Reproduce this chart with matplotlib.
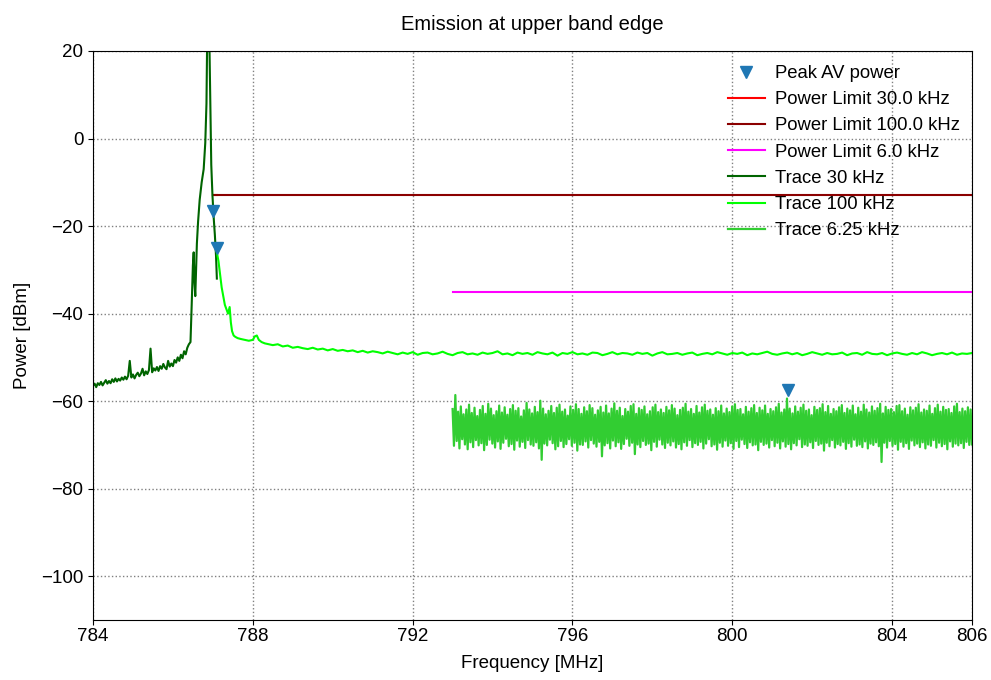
import numpy as np
import matplotlib
matplotlib.use("Agg")
import matplotlib.pyplot as plt

plt.rcParams['font.family'] = ['Liberation Sans', 'DejaVu Sans']

# ---------------- data ----------------
x_ticks = [784, 788, 792, 796, 800, 804, 806]
y_ticks = [-100, -80, -60, -40, -20, 0, 20]

# Trace 30 kHz: baseline grid 784.00..786.40 (step 0.04) + peak region
t30_base_start, t30_base_stop = 784.0, 786.40
t30_base = [-56.5, -56.0, -56.8, -55.9, -56.3, -55.6, -56.4, -55.8, -55.2, -56.0,
            -55.4, -55.9, -55.0, -55.6, -54.8, -55.5, -54.9, -55.3, -54.6, -55.1,
            -54.4, -55.0, -54.2, -50.8, -54.6, -53.9, -54.8, -54.0, -53.5, -54.3,
            -53.7, -52.6, -54.1, -53.2, -53.8, -52.9, -48.0, -53.4, -52.5, -53.0,
            -52.2, -53.1, -52.0, -52.6, -51.5, -52.3, -52.7, -50.8, -52.1, -51.4,
            -52.0, -50.6, -51.2, -50.0, -50.8, -49.4, -50.2, -48.6, -49.3, -47.8,
            -47.0]
t30_peak_f = [786.44, 786.47, 786.50, 786.52, 786.54, 786.56, 786.58, 786.60, 786.63,
              786.67, 786.72, 786.77, 786.81, 786.84, 786.86, 786.88, 786.90, 786.93,
              786.96, 786.99, 787.02, 787.05, 787.08, 787.10]
t30_peak_p = [-46.5, -38, -29, -26, -33, -36, -30, -24, -19, -14, -10, -7, -1, 8, 25,
              32, 30, 12, -6, -13, -18, -22, -27, -32]

# Trace 100 kHz: near-carrier points + grid 788.5..806 (step 0.125)
t100_near_f = [787.10, 787.14, 787.18, 787.22, 787.26, 787.30, 787.34, 787.38, 787.42,
               787.45, 787.48, 787.52, 787.56, 787.62, 787.70, 787.80, 787.90, 788.00,
               788.05, 788.10, 788.15, 788.22, 788.30, 788.40]
t100_near_p = [-26, -28, -31, -34, -36, -38, -39, -40, -38.5, -42, -44, -45, -45.3,
               -45.6, -45.8, -46.0, -46.2, -46.0, -45.2, -45.0, -46.0, -46.5, -46.8, -47.0]
t100_grid_start, t100_grid_stop = 788.5, 806.0
t100_grid = [-47.2, -47.0, -47.5, -47.3, -47.8, -47.6, -47.9, -48.1, -47.8, -48.2,
             -48.0, -48.4, -48.1, -48.5, -48.3, -48.6, -48.4, -48.8, -48.5, -48.9,
             -48.6,
             -48.8, -49.1, -48.7, -49.0, -49.3, -48.9, -49.2, -48.8, -49.4, -49.0,
             -48.9, -49.3, -49.1, -48.7, -49.2, -49.5, -49.0, -48.8, -49.3, -49.1,
             -49.4, -48.9, -49.2, -49.0, -48.6, -49.3, -49.1, -49.5, -48.9, -49.2,
             -49.0, -49.4, -48.8, -49.1, -49.3, -48.9, -49.6, -49.0, -49.2, -48.8,
             -49.3, -49.1, -49.4, -48.9, -49.0, -49.5, -49.2, -48.8, -49.3, -49.0,
             -49.1, -49.4, -48.9, -49.2, -49.0, -49.6, -49.1, -48.8, -49.3, -49.2,
             -49.0, -49.4, -49.1, -48.9, -49.5, -49.2, -49.0, -49.3, -48.8, -49.1,
             -49.4, -49.0, -49.2, -48.9, -49.5, -49.1, -49.3, -49.0, -48.7, -49.2,
             -49.4, -49.1, -48.9, -49.3, -49.0, -49.5, -49.2, -48.8, -49.1, -49.4,
             -49.0, -49.3, -49.2, -48.9, -49.5, -49.1, -49.0, -49.4, -48.8, -49.2,
             -49.3, -49.0, -49.5, -49.1, -48.9, -49.2, -49.4, -49.0, -49.3, -48.8,
             -49.1, -49.5, -49.2, -49.0, -49.3, -48.9, -49.4, -49.1, -49.2, -49.0]

# Trace 6.25 kHz: 793..806, alternating high / low samples
t625_start, t625_stop = 793.0, 806.0
t625_hi = [-61.8, -58.6, -62.4, -61.2, -63.0, -61.9, -60.8, -62.7, -61.5, -63.4,
           -62.0, -61.1, -62.9, -60.6, -61.7, -63.2, -62.3, -61.0, -62.6, -61.4,
           -63.1, -61.8, -60.9, -62.2, -61.6, -63.5, -62.1, -60.4, -61.9, -62.8,
           -61.3, -62.5, -59.9, -61.7, -63.0, -62.2, -61.1, -62.7, -61.5, -60.8,
           -62.4, -61.9, -63.3, -61.2, -62.0, -60.7, -61.8, -62.9, -61.4, -62.3,
           -60.9, -61.6, -63.1, -62.1, -61.3, -62.6, -61.0, -62.8, -61.7, -60.5,
           -62.2, -61.5, -63.4, -61.8, -62.4, -61.1, -60.7, -62.9, -61.6, -62.0,
           -61.2, -63.0, -62.3, -61.4, -60.8, -62.5, -61.9, -62.7, -61.3, -62.1,
           -60.9, -61.7, -63.2, -62.0, -61.5, -60.6, -62.4, -61.8, -62.9, -61.1,
           -62.6, -61.4, -60.8, -62.2, -61.9, -63.1, -61.6, -62.3, -61.0, -62.8,
           -61.7, -62.5, -61.2, -60.7, -62.0, -61.8, -63.0, -61.3, -62.4, -61.6,
           -60.9, -62.7, -61.5, -62.1, -61.0, -62.9, -61.8, -62.3, -61.4, -60.6,
           -62.6, -61.9, -59.4, -61.7, -62.8, -61.2, -62.4, -61.5, -60.8, -62.2,
           -61.9, -63.2, -61.3, -62.0, -61.6, -60.7, -62.5, -61.1, -62.9, -61.8,
           -62.3, -61.4, -60.9, -62.7, -61.7, -62.1, -61.0, -63.0, -61.5, -62.4,
           -60.8, -61.9, -62.6, -61.2, -62.2, -61.6, -60.6, -62.8, -61.3, -62.0,
           -61.8, -62.5, -61.1, -60.9, -62.3, -61.7, -63.1, -61.4, -62.1, -61.5,
           -60.7, -62.6, -61.9, -62.2, -61.0, -62.9, -61.6, -60.8, -62.4, -61.3,
           -62.0, -61.8, -62.7, -61.2, -60.6, -62.5, -61.7, -62.3, -61.4, -61.9]
t625_lo = [-70.2, -69.1, -70.8, -68.7, -69.9, -71.0, -69.4, -70.5, -68.9, -70.1,
           -69.6, -71.2, -70.0, -68.8, -69.7, -70.6, -69.2, -70.9, -69.5, -68.6,
           -70.3, -69.8, -71.1, -69.0, -70.4, -69.3, -70.7, -68.9, -69.9, -70.2,
           -69.4, -70.8, -73.4, -69.7, -70.1, -68.8, -69.6, -71.0, -70.3, -69.1,
           -70.5, -69.8, -68.7, -70.2, -69.5, -71.3, -69.9, -70.0, -69.2, -70.6,
           -68.9, -69.7, -70.4, -69.3, -72.6, -70.1, -69.6, -70.8, -69.0, -70.3,
           -69.4, -70.9, -69.8, -68.6, -70.2, -69.5, -72.1, -69.9, -70.5, -69.1,
           -70.0, -69.7, -71.2, -69.3, -70.4, -68.8, -69.9, -70.7, -69.5, -70.1,
           -69.2, -70.6, -69.8, -71.0, -69.4, -70.2, -68.9, -70.5, -69.6, -70.0,
           -69.3, -70.8, -69.7, -68.7, -70.3, -69.9, -71.1, -69.5, -70.4, -69.0,
           -70.2, -69.6, -70.9, -69.1, -70.5, -68.8, -69.8, -70.7, -69.4, -70.1,
           -69.9, -71.2, -69.3, -70.0, -69.7, -70.6, -68.9, -70.3, -69.5, -70.8,
           -69.2, -70.4, -69.8, -71.0, -69.6, -70.1, -68.7, -70.5, -69.9, -70.2,
           -69.4, -70.7, -69.1, -70.0, -69.7, -71.3, -69.5, -70.3, -68.9, -70.6,
           -69.8, -70.1, -69.3, -70.9, -69.6, -70.4, -68.8, -70.2, -69.9, -70.5,
           -69.2, -70.8, -69.7, -70.0, -69.4, -70.3, -73.9, -69.5, -70.6, -69.1,
           -70.2, -69.8, -71.1, -69.3, -70.4, -69.6, -70.9, -69.0, -70.1, -69.7,
           -70.5, -69.4, -70.8, -69.9, -70.2, -68.9, -70.6, -69.5, -70.3, -69.8,
           -71.0, -69.2, -70.4, -69.7, -70.1, -69.6, -70.7, -69.3, -70.0, -69.9]

# Limits
lim30_f = [787.0, 787.1]
lim30_p = [-13.0, -13.0]
lim100_f = [787.0, 806.0]
lim100_p = [-13.0, -13.0]
lim6_f = [793.0, 806.0]
lim6_p = [-35.0, -35.0]

# Peak markers
peak_f = [787.0, 787.1, 801.4]
peak_p = [-16.5, -25.0, -57.5]

# ---------------- plot ----------------
fig = plt.figure(figsize=(9.91, 6.80), dpi=100)
ax = fig.add_axes([93 / 991, 1 - 620 / 680, (972 - 93) / 991, (620 - 51) / 680])

t30_f = list(np.linspace(t30_base_start, t30_base_stop, len(t30_base))) + t30_peak_f
t30_p = t30_base + t30_peak_p
t100_f = t100_near_f + list(np.linspace(t100_grid_start, t100_grid_stop, len(t100_grid)))
t100_p = t100_near_p + t100_grid
t625_p = np.column_stack([t625_hi, t625_lo]).ravel()
t625_f = np.linspace(t625_start, t625_stop, len(t625_p))

ax.plot(peak_f, peak_p, linestyle='none', marker='v', color='#1f77b4',
        markersize=9, label='Peak AV power', zorder=5)
ax.plot(lim30_f, lim30_p, color='red', lw=1.5, label='Power Limit 30.0 kHz')
ax.plot(lim100_f, lim100_p, color='darkred', lw=1.5, label='Power Limit 100.0 kHz')
ax.plot(lim6_f, lim6_p, color='magenta', lw=1.5, label='Power Limit 6.0 kHz')
ax.plot(t30_f, t30_p, color='darkgreen', lw=1.5, label='Trace 30 kHz')
ax.plot(t100_f, t100_p, color='lime', lw=1.5, label='Trace 100 kHz')
ax.plot(t625_f, t625_p, color='limegreen', lw=1.6, label='Trace 6.25 kHz')

ax.set_xlim(784, 806)
ax.set_ylim(-110, 20)
ax.set_xticks(x_ticks)
ax.set_yticks(y_ticks)
ax.grid(True, linestyle=':', color='gray', lw=1)
ax.tick_params(labelsize=13.5)
ax.tick_params(axis='x', pad=2.5)
ax.set_xlabel('Frequency [MHz]', fontsize=13.5, labelpad=7)
ax.set_ylabel('Power [dBm]', fontsize=13.5, labelpad=7)
ax.set_title('Emission at upper band edge', fontsize=14.5, pad=15)

ax.legend(loc='upper left', frameon=False, fontsize=13.3, numpoints=1,
          handlelength=2.0, handletextpad=0.55, labelspacing=0.5,
          borderpad=0, borderaxespad=0,
          bbox_to_anchor=((728 - 93) / 879, (620 - 65) / 569))

fig.savefig('out.png', dpi=100)
